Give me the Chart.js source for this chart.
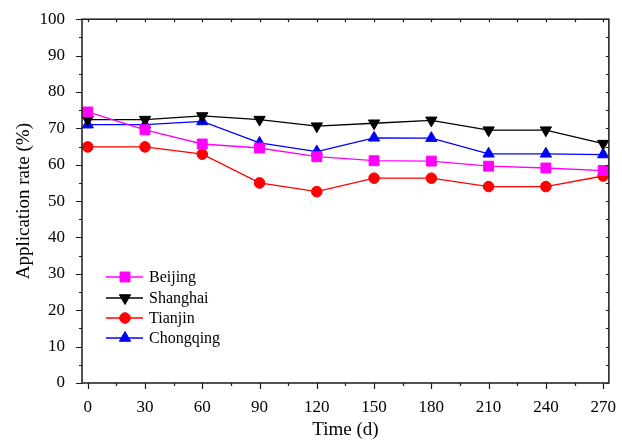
<!DOCTYPE html>
<html>
<head>
<meta charset="utf-8">
<script src="https://cdn.jsdelivr.net/npm/chart.js@4.4.1/dist/chart.umd.min.js"></script>
<style>
  html, body { margin: 0; padding: 0; background: #fff; }
  #wrap { width: 622px; height: 441px; }
</style>
</head>
<body>
<div id="wrap"><canvas id="c" width="622" height="441"></canvas></div>
<script>
// ---- data ----
const days = [0, 30, 60, 90, 120, 150, 180, 210, 240, 270];
const xTickLabels = [0, 30, 60, 90, 120, 150, 180, 210, 240, 270];
const yTickLabels = [0, 10, 20, 30, 40, 50, 60, 70, 80, 90, 100];
const seriesNames = ["Beijing", "Shanghai", "Tianjin", "Chongqing"];
const beijing   = [74.5, 69.6, 65.7, 64.6, 62.2, 61.1, 61.0, 59.6, 59.1, 58.4];
const shanghai  = [72.4, 72.4, 73.4, 72.4, 70.6, 71.4, 72.2, 69.5, 69.5, 65.8];
const tianjin   = [64.9, 64.9, 62.9, 55.0, 52.6, 56.3, 56.3, 54.0, 54.0, 56.9];
const chongqing = [71.0, 71.0, 71.9, 66.0, 63.6, 67.4, 67.3, 63.0, 63.0, 62.8];

const FONT = "'Liberation Serif', 'Times New Roman', serif";

const styles = [
  { color: '#ff00ff', pointStyle: 'rect', radius: 7, rotation: 0 },
  { color: '#000000', pointStyle: 'triangle', radius: 6.5, rotation: 180 },
  { color: '#ff0000', pointStyle: 'circle', radius: 5.3, rotation: 0 },
  { color: '#0000ff', pointStyle: 'triangle', radius: 6.5, rotation: 0 }
];
const seriesValues = [beijing, shanghai, tianjin, chongqing];

const datasets = seriesNames.map((name, i) => ({
  label: name,
  data: days.map((d, j) => ({ x: d, y: seriesValues[i][j] })),
  borderColor: styles[i].color,
  backgroundColor: styles[i].color,
  borderWidth: 1.3,
  pointStyle: styles[i].pointStyle,
  pointRadius: styles[i].radius,
  pointRotation: styles[i].rotation,
  pointBorderWidth: 1,
  pointBackgroundColor: styles[i].color,
  pointBorderColor: styles[i].color,
  tension: 0
}));

// frame + ticks plugin
const framePlugin = {
  id: 'frame',
  afterDraw(chart) {
    const ctx = chart.ctx;
    const a = chart.chartArea;
    const xs = chart.scales.x, ys = chart.scales.y;
    ctx.save();
    ctx.strokeStyle = '#1a1a1a';
    ctx.lineWidth = 1.5;
    ctx.strokeRect(a.left, a.top, a.right - a.left, a.bottom - a.top);
    ctx.lineWidth = 1.2;
    ctx.beginPath();
    // x ticks
    for (let v = 0; v <= 270; v += 15) {
      const px = Math.round(xs.getPixelForValue(v)) + 0.5;
      const major = v % 30 === 0;
      const len = major ? 6 : 3;
      ctx.moveTo(px, a.bottom); ctx.lineTo(px, a.bottom + len);
      ctx.moveTo(px, a.top); ctx.lineTo(px, a.top + 3);
    }
    // y ticks
    for (let v = 0; v <= 100; v += 5) {
      const py = Math.round(ys.getPixelForValue(v)) + 0.5;
      const major = v % 10 === 0;
      const len = major ? 6 : 3;
      ctx.moveTo(a.left, py); ctx.lineTo(a.left - len, py);
      ctx.moveTo(a.right, py); ctx.lineTo(a.right - 3, py);
    }
    ctx.stroke();
    ctx.restore();
  }
};

// legend plugin (line + marker + text)
const legendPlugin = {
  id: 'lineLegend',
  afterDraw(chart) {
    const ctx = chart.ctx;
    const x0 = 106, x1 = 143, xm = 125, xt = 149;
    const rows = [277, 298, 318, 338];
    ctx.save();
    seriesNames.forEach((name, i) => {
      const s = styles[i];
      const y = rows[i];
      ctx.strokeStyle = s.color;
      ctx.fillStyle = s.color;
      ctx.lineWidth = 1.3;
      ctx.beginPath();
      ctx.moveTo(x0, y); ctx.lineTo(x1, y);
      ctx.stroke();
      ctx.lineWidth = 1;
      Chart.helpers.drawPoint(ctx, { pointStyle: s.pointStyle, radius: s.radius, rotation: s.rotation, borderWidth: 1 }, xm, y);
      ctx.fillStyle = '#000';
      ctx.font = '16px ' + FONT;
      ctx.textBaseline = 'middle';
      ctx.textAlign = 'left';
      ctx.fillText(name, xt, y + 1);
    });
    ctx.restore();
  }
};

new Chart(document.getElementById('c'), {
  type: 'line',
  data: { datasets },
  options: {
    responsive: false,
    animation: false,
    devicePixelRatio: 1,
    layout: { padding: { top: 10, right: 9, left: 0, bottom: 0 } },
    plugins: { legend: { display: false }, tooltip: { enabled: false } },
    scales: {
      x: {
        type: 'linear',
        min: -3, max: 273,
        grid: { display: false },
        border: { display: false },
        afterBuildTicks(scale) { scale.ticks = xTickLabels.map(v => ({ value: v })); },
        afterFit(scale) { scale.height = 58; },
        ticks: { color: '#000', font: { family: FONT, size: 17 }, padding: 6, maxRotation: 0, autoSkip: false },
        title: { display: true, text: 'Time (d)', color: '#000', font: { family: FONT, size: 19 }, padding: { top: 0, bottom: 0 } }
      },
      y: {
        type: 'linear',
        min: 0, max: 100,
        grid: { display: false },
        border: { display: false },
        afterBuildTicks(scale) { scale.ticks = yTickLabels.map(v => ({ value: v })); },
        afterFit(scale) { scale.width = 82; },
        ticks: { color: '#000', font: { family: FONT, size: 17 }, padding: 9, autoSkip: false },
        title: { display: true, text: 'Application rate (%)', color: '#000', font: { family: FONT, size: 19 }, padding: { top: 13, bottom: 0 } }
      }
    }
  },
  plugins: [framePlugin, legendPlugin]
});
</script>
</body>
</html>
